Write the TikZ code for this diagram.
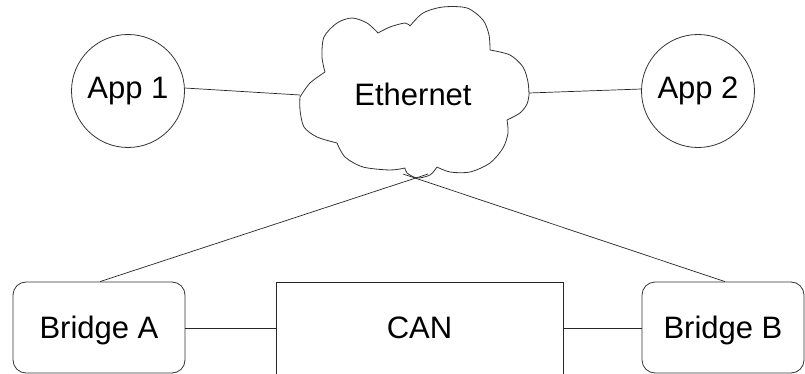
\documentclass[tikz,border=0pt]{standalone}
\usepackage{fontspec}
\setmainfont{Liberation Sans}
\begin{document}
\begin{tikzpicture}[x=1pt,y=-1pt,line width=0.8pt,
  every node/.style={font=\fontsize{31}{36}\selectfont,inner sep=0pt},
  app/.style={draw=black!80,circle,minimum size=113pt},
  bridgebox/.style={draw=black!80,rounded corners=13pt,minimum width=172pt,minimum height=91pt,text depth=0pt},
  busbox/.style={draw=black!85,minimum width=287pt,minimum height=96pt},
  cloudline/.style={draw=black!80,line width=0.8pt,line join=round},
  link/.style={draw=black!85,line width=0.7pt}]
\useasboundingbox (0,0) rectangle (805,374);
\clip (0,0) rectangle (805,374);

% cloud outline, one smooth puff after another
\draw[cloudline]
  plot[smooth] coordinates {(325,72) (322,57) (324,37) (337,23) (352,18) (367,23) (378,33)}
  --plot[smooth] coordinates {(378,33) (390,27) (405,23) (410,26)}
  --plot[smooth] coordinates {(410,26) (423,13) (443,7) (467,8) (483,20) (489,35) (490,50)}
  --plot[smooth] coordinates {(490,50) (510,55) (523,67) (528,82) (529,95)}
  --plot[smooth] coordinates {(529,95) (527,104) (520,113) (507,120)}
  --plot[smooth] coordinates {(507,120) (508,133) (503,148) (490,163) (470,172) (450,172) (437,167)}
  --plot[smooth] coordinates {(437,167) (430,175) (417,178) (407,173) (405,168)}
  --plot[smooth] coordinates {(405,168) (390,170) (363,167) (345,157) (337,143)}
  --plot[smooth] coordinates {(337,143) (317,137) (304,127) (300,110) (300,97)}
  --plot[smooth] coordinates {(300,97) (310,83) (325,72)}
  -- cycle;
\node (eth) at (413,94.5) {Ethernet};
\coordinate (cl) at (300,95);
\coordinate (cr) at (529,93);
\coordinate (cbA) at (428,174);
\coordinate (cbB) at (403,174);

\node[app] (app1) at (128,91) {App 1};
\node[app] (app2) at (698,91) {App 2};

\node[bridgebox] (bridgeA) at (99,327.5) {Bridge A};
\node[bridgebox,minimum width=162pt] (bridgeB) at (723,327.5) {Bridge B};
\node[busbox] (can) at (419.5,330) {\raisebox{2pt}[\height][\depth]{CAN}};

\draw[link] (app1.3) -- (cl);
\draw[link] (cr) -- (app2.178);
\draw[link] ([xshift=1pt]bridgeA.north) -- (cbA);
\draw[link] ([xshift=2pt]bridgeB.north) -- (cbB);
\draw[link] ([yshift=-0.5pt]bridgeA.east) -- ([yshift=-0.5pt]bridgeA.east -| can.west);
\draw[link] ([yshift=-0.5pt]bridgeB.west -| can.east) -- ([yshift=-0.5pt]bridgeB.west);
\end{tikzpicture}
\end{document}
